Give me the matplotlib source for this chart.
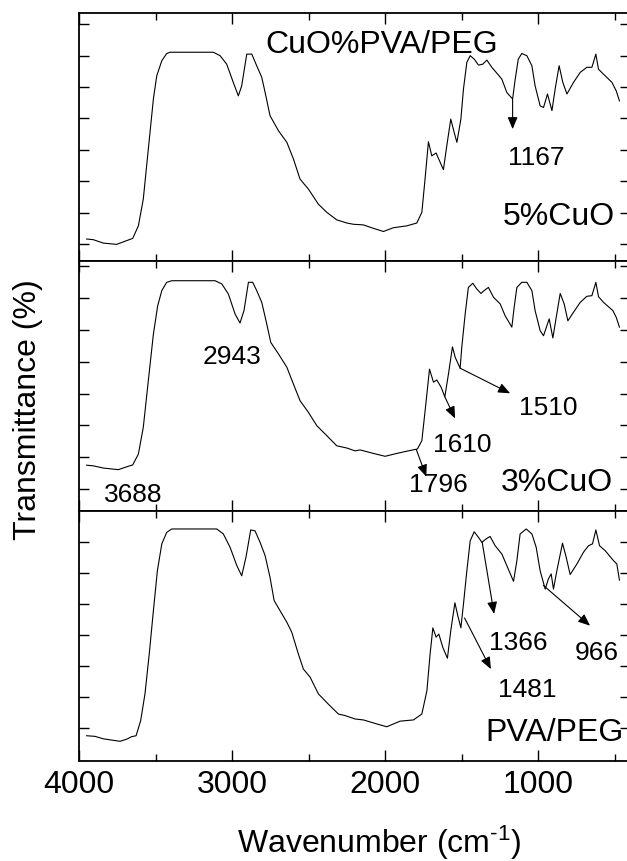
import numpy as np
import matplotlib
matplotlib.use("Agg")
import matplotlib.pyplot as plt
from matplotlib.ticker import MultipleLocator

plt.rcParams["font.family"] = ["Liberation Sans", "DejaVu Sans"]
plt.rcParams["mathtext.fontset"] = "custom"
plt.rcParams["mathtext.rm"] = "Liberation Sans"
plt.rcParams["mathtext.it"] = "Liberation Sans"

# ---- FTIR spectra (wavenumber in cm^-1, transmittance in %) ----
wn_top = [3950, 3907, 3841, 3754, 3688, 3649, 3612, 3580, 3547, 3514, 3492, 3459,
          3427, 3405, 3122, 3078, 3035, 2992, 2959, 2937, 2904, 2871, 2839, 2806,
          2784, 2752, 2697, 2642, 2599, 2556, 2501, 2436, 2381, 2316, 2250, 2207,
          2142, 2076, 2011, 1946, 1858, 1793, 1760, 1739, 1717, 1695, 1667, 1640,
          1619, 1597, 1571, 1549, 1531, 1505, 1488, 1466, 1444, 1418, 1390, 1362,
          1335, 1303, 1259, 1237, 1205, 1167, 1150, 1130, 1107, 1074, 1041, 1020,
          987, 965, 939, 910, 889, 863, 839, 812, 769, 725, 682, 649, 623, 606,
          573, 518, 490, 469]
t_top = [11.6, 11.4, 10.3, 9.9, 11.1, 11.8, 15.8, 24.3, 40.3, 56.2, 63.6, 68.4,
         70.7, 71.1, 71.1, 70.0, 67.3, 61.5, 57.2, 60.4, 70.5, 70.5, 66.8, 63.1,
         58.3, 50.9, 46.1, 42.4, 37.1, 30.7, 27.5, 22.7, 20.1, 17.7, 16.7, 16.3,
         16.1, 15.0, 14.0, 15.2, 15.8, 16.7, 20.1, 30.7, 42.6, 38.1, 39.0, 36.0,
         33.7, 41.3, 49.8, 45.6, 42.4, 49.8, 59.4, 67.9, 70.0, 68.9, 67.0, 67.3,
         68.6, 66.3, 63.8, 62.5, 58.3, 56.2, 62.5, 68.9, 70.7, 70.0, 66.8, 60.4,
         54.0, 53.5, 57.8, 52.5, 59.4, 66.8, 61.5, 57.8, 61.5, 64.7, 66.3, 66.3,
         70.5, 65.7, 64.1, 61.5, 58.8, 55.6]

wn_mid = [3950, 3907, 3841, 3743, 3688, 3649, 3612, 3580, 3547, 3514, 3486, 3459,
          3427, 3394, 3111, 3067, 3024, 2980, 2948, 2922, 2893, 2865, 2839, 2806,
          2778, 2747, 2697, 2642, 2599, 2556, 2501, 2446, 2381, 2316, 2250, 2196,
          2163, 2076, 2000, 1924, 1858, 1789, 1760, 1734, 1710, 1684, 1662, 1634,
          1610, 1586, 1560, 1542, 1510, 1499, 1477, 1456, 1427, 1401, 1374, 1353,
          1325, 1292, 1248, 1216, 1172, 1157, 1139, 1107, 1074, 1041, 1020, 987,
          965, 928, 904, 882, 856, 830, 806, 769, 725, 682, 649, 623, 606, 573,
          512, 490, 469]
t_mid = [17.5, 17.3, 16.6, 16.1, 17.0, 17.6, 21.0, 29.4, 44.1, 58.7, 67.6, 72.4,
         75.0, 75.5, 75.5, 74.5, 71.3, 65.0, 62.2, 66.1, 75.0, 75.0, 72.4, 68.7,
         62.9, 56.1, 52.5, 48.3, 43.0, 37.8, 34.1, 29.9, 26.8, 23.6, 22.9, 22.0,
         22.3, 21.2, 20.3, 21.2, 21.9, 22.6, 25.2, 36.7, 47.7, 43.6, 44.3, 42.0,
         39.0, 46.2, 54.7, 51.4, 48.0, 54.6, 65.0, 73.4, 74.7, 72.9, 71.5, 72.4,
         73.4, 70.3, 68.2, 64.5, 60.9, 67.1, 73.4, 75.0, 75.0, 72.4, 66.1, 59.8,
         58.2, 63.5, 57.5, 64.0, 71.5, 68.2, 62.9, 65.6, 68.7, 70.6, 70.8, 75.0,
         70.5, 68.7, 66.1, 64.0, 60.9]

wn_bot = [3950, 3895, 3841, 3786, 3732, 3688, 3656, 3627, 3597, 3569, 3541, 3514,
          3488, 3459, 3427, 3394, 3100, 3057, 3013, 2969, 2937, 2909, 2878, 2850,
          2817, 2784, 2752, 2725, 2686, 2642, 2610, 2567, 2534, 2490, 2436, 2371,
          2305, 2261, 2196, 2142, 2054, 1989, 1902, 1815, 1760, 1727, 1706, 1688,
          1667, 1649, 1623, 1593, 1571, 1544, 1525, 1505, 1488, 1466, 1444, 1418,
          1390, 1368, 1340, 1314, 1281, 1237, 1205, 1161, 1139, 1118, 1078, 1041,
          1013, 987, 954, 933, 915, 900, 878, 841, 817, 791, 747, 704, 671, 645,
          623, 599, 562, 508, 486, 469]
t_bot = [17.5, 17.3, 16.5, 16.1, 15.7, 16.4, 17.2, 17.5, 22.4, 31.0, 43.9, 57.8,
         70.7, 79.4, 83.1, 84.2, 84.2, 82.6, 78.3, 72.4, 69.1, 75.1, 83.9, 83.6,
         79.9, 75.6, 68.6, 61.1, 57.8, 54.1, 50.9, 43.9, 39.0, 36.4, 31.0, 27.7,
         24.5, 24.0, 22.9, 22.6, 21.3, 20.4, 22.2, 22.6, 24.5, 32.0, 43.9, 52.3,
         49.3, 50.3, 46.0, 42.5, 51.4, 60.4, 56.2, 52.3, 60.0, 70.7, 80.4, 83.3,
         81.5, 79.9, 81.0, 81.8, 78.8, 76.1, 72.4, 67.3, 74.0, 82.6, 84.2, 82.6,
         78.3, 70.7, 64.8, 68.1, 69.7, 64.8, 70.7, 79.6, 75.1, 69.5, 72.9, 76.7,
         78.8, 79.4, 83.9, 78.8, 77.2, 74.0, 72.9, 67.7]

xlim = (4000, 400)
ylims = [(4.6, 83.6), (3.1, 81.7), (9.35, 90.0)]
yticks = [np.arange(10, 81, 10), np.arange(10, 81, 10), np.arange(20, 81, 10)]

# (label, peak wavenumber, transmittance at tail, tip wavenumber, tip transmittance,
#  text wavenumber, text transmittance)
peaks_top = [("1167", 1167, 56.2, 1167, 46.6, 1009, 37.7)]
peaks_mid = [("1796", 1796, 22.4, 1731, 13.9, 1652, 11.6),
             ("1610", 1610, 39.0, 1543, 32.2, 1499, 24.2),
             ("1510", 1510, 48.0, 1183, 40.1, 933, 35.7)]
peaks_bot = [("1366", 1366, 80.0, 1288, 56.8, 1129, 47.6),
             ("1481", 1481, 55.5, 1309, 39.0, 1074, 32.6),
             ("966", 966, 66.0, 661, 53.0, 616, 44.4)]

BIG = 23
SMALL = 19

fig = plt.figure(figsize=(6.27, 8.62), dpi=100)
left, width = 79 / 627, (630 - 79) / 627
rects = [(left, 600 / 862, width, 248 / 862),
         (left, 350 / 862, width, 250 / 862),
         (left, 100 / 862, width, 250 / 862)]

series = [(wn_top, t_top), (wn_mid, t_mid), (wn_bot, t_bot)]
peaks = [peaks_top, peaks_mid, peaks_bot]
axes = []
for i, rect in enumerate(rects):
    ax = fig.add_axes(rect)
    wn, t = series[i]
    ax.plot(wn, t, color="black", lw=0.8, solid_joinstyle="round")
    ax.set_xlim(*xlim)
    ax.set_ylim(*ylims[i])
    ax.set_yticks(yticks[i])
    ax.xaxis.set_major_locator(MultipleLocator(1000))
    ax.xaxis.set_minor_locator(MultipleLocator(500))
    ax.tick_params(axis="both", which="both", direction="in",
                   top=True, bottom=True, left=True, right=True,
                   labelleft=False, labelright=False, labeltop=False,
                   labelbottom=(i == 2), labelsize=BIG, width=1.0, pad=6)
    ax.tick_params(axis="x", which="major", length=8)
    ax.tick_params(axis="x", which="minor", length=5)
    ax.tick_params(axis="y", which="major", length=7)
    for s in ax.spines.values():
        s.set_linewidth(1.3)
    for lab, x0, y0, x1, y1, xt, yt in peaks[i]:
        ax.annotate("", xy=(x1, y1), xytext=(x0, y0),
                    arrowprops=dict(arrowstyle="-|>,head_length=0.6,head_width=0.25",
                                    color="black", lw=0.8, mutation_scale=12,
                                    shrinkA=0, shrinkB=0))
        ax.text(xt, yt, lab, fontsize=SMALL, ha="center", va="center")
    axes.append(ax)

ax_top, ax_mid, ax_bot = axes
ax_top.text(2020, 73.7, "CuO%PVA/PEG", fontsize=BIG, ha="center", va="center")
ax_top.text(497, 18.9, "5%CuO", fontsize=BIG, ha="right", va="center")
ax_mid.text(3002, 51.9, "2943", fontsize=SMALL, ha="center", va="center")
ax_mid.text(3645, 8.4, "3688", fontsize=SMALL, ha="center", va="center")
ax_mid.text(510, 12.1, "3%CuO", fontsize=BIG, ha="right", va="center")
ax_bot.text(1346, 18.6, "PVA/PEG", fontsize=BIG, ha="left", va="center")

fig.text(28 / 627, 1 - 410 / 862, "Transmittance (%)", fontsize=BIG,
         rotation=90, ha="center", va="center")
fig.text(379 / 627, 9 / 862, r"Wavenumber (cm$^{\text{-1}}$)", fontsize=BIG,
         ha="center", va="baseline")

fig.savefig("out.png", dpi=100)
